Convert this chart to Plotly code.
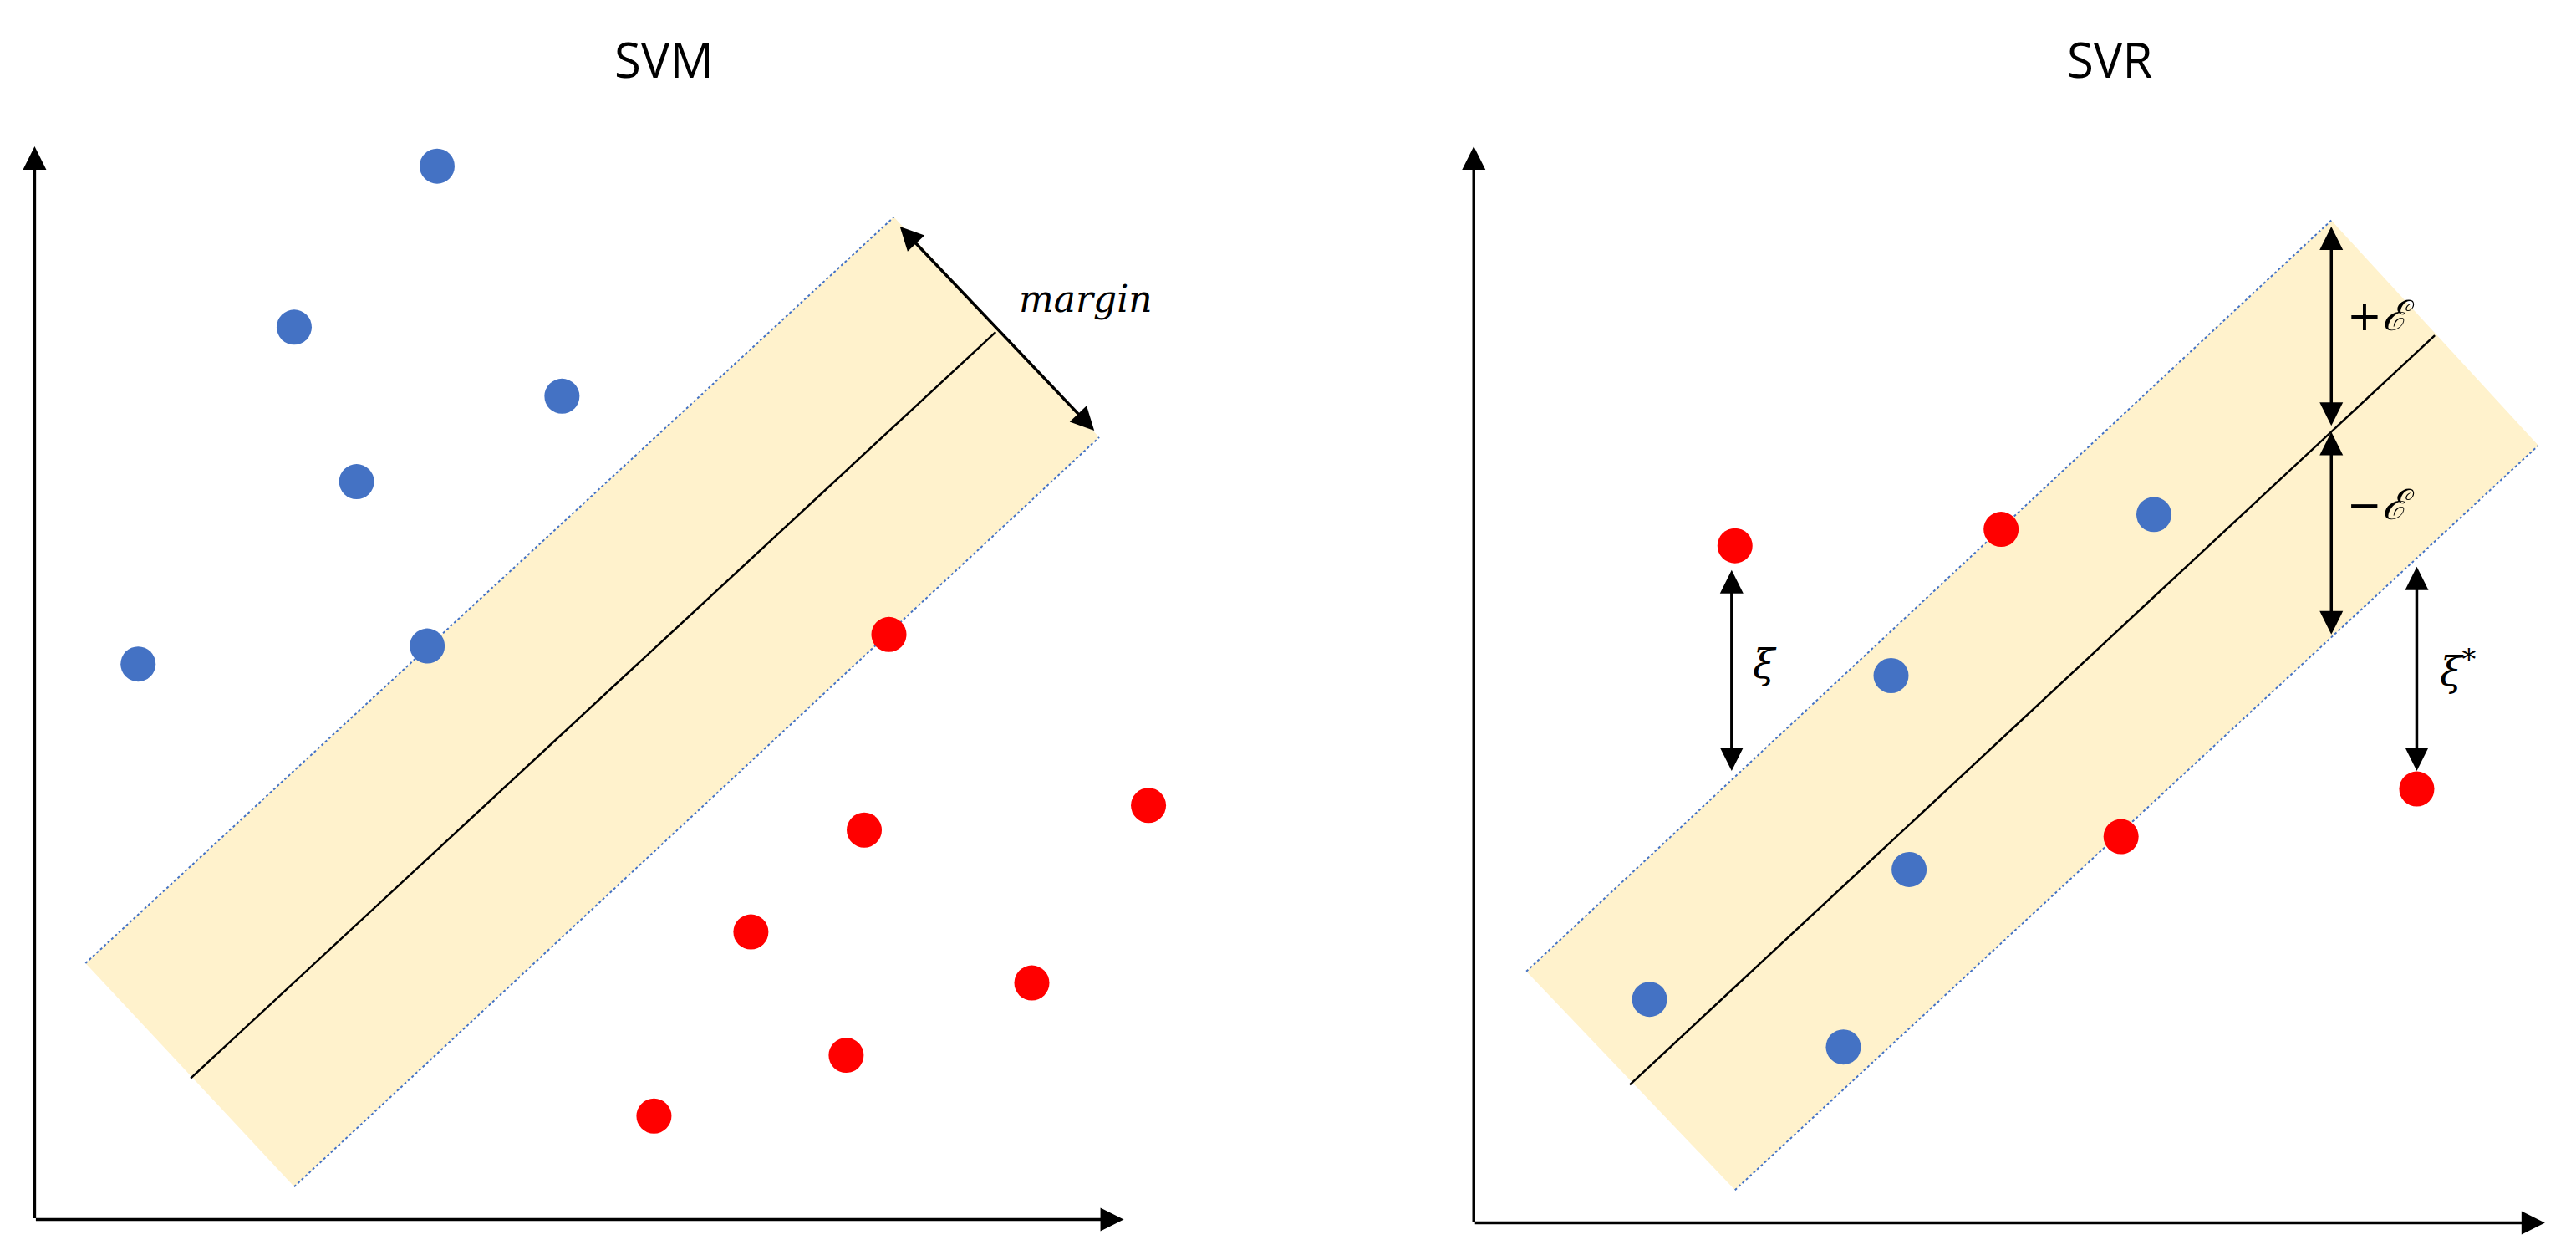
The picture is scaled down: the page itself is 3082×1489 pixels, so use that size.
import plotly.graph_objects as go

S = 3082 / 1568  # reference drawn in display units, scaled to pixels

# ---- data (display units) ----
svm_blue_x = [262, 175, 338, 213, 80, 256]
svm_blue_y = [97, 195, 237, 289, 400, 389]
svm_red_x = [537, 522, 695, 453, 624, 511, 394]
svm_red_y = [382, 501, 486, 563, 594, 638, 675]
svm_band_x = [48, 540, 665, 175]
svm_band_y = [582, 128, 262, 718]
svm_center_x = [112, 602]
svm_center_y = [652, 198]

svr_blue_x = [1307, 1147, 1158, 1000, 1118]
svr_blue_y = [309, 407, 525, 604, 633]
svr_red_x = [1052, 1214, 1287, 1467]
svr_red_y = [328, 318, 505, 476]
svr_band_x = [925, 1415, 1541, 1052]
svr_band_y = [587, 130, 267, 720]
svr_center_x = [988, 1478]
svr_center_y = [656, 200]

titles = ["SVM", "SVR"]
title_x = [400, 1280]

BLUE = "#4472C4"; RED = "#FF0000"; BAND = "#FFF2CC"

def sc(v): return [a * S for a in v]

fig = go.Figure()
for bx, by, cx, cy in [(svm_band_x, svm_band_y, svm_center_x, svm_center_y),
                       (svr_band_x, svr_band_y, svr_center_x, svr_center_y)]:
    fig.add_trace(go.Scatter(x=sc(bx + [bx[0]]), y=sc(by + [by[0]]), fill="toself",
                             fillcolor=BAND, mode="none", hoverinfo="skip"))
    fig.add_trace(go.Scatter(x=sc([bx[0], bx[1]]), y=sc([by[0], by[1]]), mode="lines",
                             line=dict(color=BLUE, width=2, dash="dot")))
    fig.add_trace(go.Scatter(x=sc([bx[3], bx[2]]), y=sc([by[3], by[2]]), mode="lines",
                             line=dict(color=BLUE, width=2, dash="dot")))
    fig.add_trace(go.Scatter(x=sc(cx), y=sc(cy), mode="lines", line=dict(color="black", width=2.5)))

for x, y, c in [(svm_blue_x, svm_blue_y, BLUE), (svm_red_x, svm_red_y, RED),
                (svr_blue_x, svr_blue_y, BLUE), (svr_red_x, svr_red_y, RED)]:
    fig.add_trace(go.Scatter(x=sc(x), y=sc(y), mode="markers",
                             marker=dict(color=c, size=42, line=dict(width=0))))

def arrow(x0, y0, x1, y1, both=False):
    fig.add_annotation(x=x1 * S, y=y1 * S, ax=x0 * S, ay=y0 * S, xref="x", yref="y",
                       axref="x", ayref="y", showarrow=True, arrowhead=2, arrowsize=1.6,
                       arrowwidth=3.5, arrowcolor="black", text="",
                       arrowside="end+start" if both else "end",
                       startarrowhead=2, startarrowsize=1.6)

# axes
arrow(17, 738, 17, 85); arrow(17, 738, 680, 738)
arrow(893, 740, 893, 85); arrow(893, 740, 1545, 740)
# annotation arrows
arrow(543, 133, 662, 258, True)
arrow(1415, 133, 1415, 255, True)
arrow(1415, 258, 1415, 382, True)
arrow(1050, 342, 1050, 465, True)
arrow(1467, 340, 1467, 465, True)

def text(x, y, t, size=46, font="DejaVu Serif"):
    fig.add_annotation(x=x * S, y=y * S, xref="x", yref="y", text=t, showarrow=False,
                       font=dict(size=size, family=font, color="black"))

for t, tx in zip(titles, title_x):
    text(tx, 32, t, size=58, font="Open Sans")
text(657, 178, "<i>margin</i>", size=44)
text(1445, 188, "+<i>ℰ</i>", size=50)
text(1445, 303, "−<i>ℰ</i>", size=50)
text(1070, 400, "<i>ξ</i>", size=48)
text(1492, 403, "<i>ξ</i><sup>*</sup>", size=48)

fig.update_layout(width=3082, height=1489, margin=dict(l=0, r=0, t=0, b=0),
                  plot_bgcolor="white", paper_bgcolor="white", showlegend=False,
                  xaxis=dict(range=[0, 3082], visible=False),
                  yaxis=dict(range=[1489, 0], visible=False))
fig.write_html("out.html")
